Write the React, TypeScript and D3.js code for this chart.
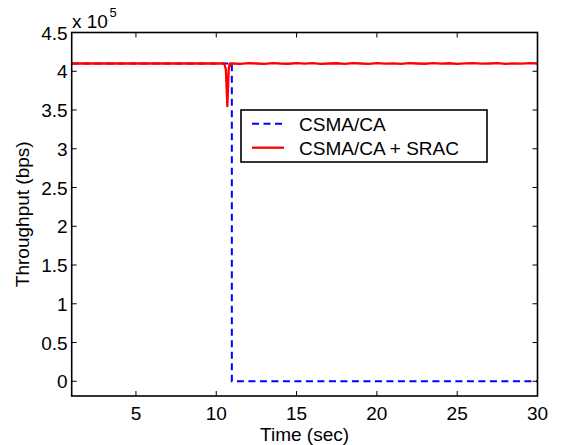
import React from "react";
import * as d3 from "d3";

const xTicks = [5, 10, 15, 20, 25, 30];
const yTicks = [0, 0.5, 1, 1.5, 2, 2.5, 3, 3.5, 4, 4.5];
const yTickLabels = ["0", "0.5", "1", "1.5", "2", "2.5", "3", "3.5", "4", "4.5"];

const blueTime = [1, 10.97, 10.97, 30];
const blueValue = [4.1, 4.1, 0, 0];

const redTime = [
  1, 10.5, 10.6, 10.69, 10.78, 10.84, 10.88, 10.92, 11,
  11.5, 12, 12.5, 13, 13.5, 14, 14.5, 15, 15.5, 16, 16.5, 17, 17.5, 18, 18.5,
  19, 19.5, 20, 20.5, 21, 21.5, 22, 22.5, 23, 23.5, 24, 24.5, 25, 25.5, 26,
  26.5, 27, 27.5, 28, 28.5, 29, 29.5, 30,
];
const redValue = [
  4.1, 4.1, 4.02, 3.55, 4.04, 4.1, 4.07, 4.1, 4.1,
  4.095, 4.105, 4.1, 4.094, 4.106, 4.1, 4.097, 4.104, 4.099, 4.105, 4.095, 4.1, 4.103, 4.096, 4.106,
  4.1, 4.095, 4.104, 4.098, 4.102, 4.094, 4.105, 4.1, 4.097, 4.105, 4.099, 4.103, 4.095, 4.101, 4.106,
  4.098, 4.1, 4.104, 4.096, 4.102, 4.099, 4.104, 4.1,
];

const seriesNames = ["CSMA/CA", "CSMA/CA + SRAC"];

export default function App() {
  const W = 565, H = 445;
  const left = 71.7, right = 537.5, top = 32.5, bottom = 396;
  const x = d3.scaleLinear().domain([1, 30]).range([left, right]);
  const y = d3.scaleLinear().domain([-0.19, 4.5]).range([bottom, top]);
  const line = d3.line<[number, number]>().x((d) => x(d[0])).y((d) => y(d[1]));
  const blueData = blueTime.map((t, i) => [t, blueValue[i]] as [number, number]);
  const redData = redTime.map((t, i) => [t, redValue[i]] as [number, number]);
  const font = "'Liberation Sans', Arial, Helvetica, sans-serif";
  const fs = 19;
  const tl = 5;
  const lg = { x: 241, y: 110, w: 246, h: 52 };

  return (
    <svg width={W} height={H} style={{ position: "absolute", left: 0, top: 0 }} fontFamily={font}>
      <rect width={W} height={H} fill="white" />
      <path d={line(blueData) || ""} fill="none" stroke="#0000ff" strokeWidth={2} strokeDasharray="7,4.5" />
      <path d={line(redData) || ""} fill="none" stroke="#ff0000" strokeWidth={2.3} strokeLinejoin="round" />
      <rect x={left} y={top} width={right - left} height={bottom - top} fill="none" stroke="black" strokeWidth={1.6} />
      {xTicks.map((t) => (
        <g key={"x" + t}>
          <line x1={x(t)} x2={x(t)} y1={bottom} y2={bottom - tl} stroke="black" strokeWidth={1} />
          <line x1={x(t)} x2={x(t)} y1={top} y2={top + tl} stroke="black" strokeWidth={1} />
          <text x={x(t)} y={420} textAnchor="middle" fontSize={fs}>{t}</text>
        </g>
      ))}
      {yTicks.map((t, i) => (
        <g key={"y" + t}>
          <line x1={left} x2={left + tl} y1={y(t)} y2={y(t)} stroke="black" strokeWidth={1} />
          <line x1={right} x2={right - tl} y1={y(t)} y2={y(t)} stroke="black" strokeWidth={1} />
          <text x={left - 4} y={y(t) + 7} textAnchor="end" fontSize={fs}>{yTickLabels[i]}</text>
        </g>
      ))}
      <text x={72} y={28} fontSize={fs}>x 10</text>
      <text x={109.5} y={17} fontSize={13}>5</text>
      <text x={(left + right) / 2} y={440.5} textAnchor="middle" fontSize={fs}>Time (sec)</text>
      <text transform={`translate(28.5, ${(top + bottom) / 2}) rotate(-90)`} textAnchor="middle" fontSize={fs}>Throughput (bps)</text>
      <rect x={lg.x} y={lg.y} width={lg.w} height={lg.h} fill="white" stroke="black" strokeWidth={1.6} />
      <line x1={252} x2={284} y1={123.7} y2={123.7} stroke="#0000ff" strokeWidth={2} strokeDasharray="7,4.5" />
      <line x1={252} x2={284} y1={147.7} y2={147.7} stroke="#ff0000" strokeWidth={2.3} />
      <text x={299} y={130.5} fontSize={fs}>{seriesNames[0]}</text>
      <text x={299} y={154.5} fontSize={fs}>{seriesNames[1]}</text>
    </svg>
  );
}
